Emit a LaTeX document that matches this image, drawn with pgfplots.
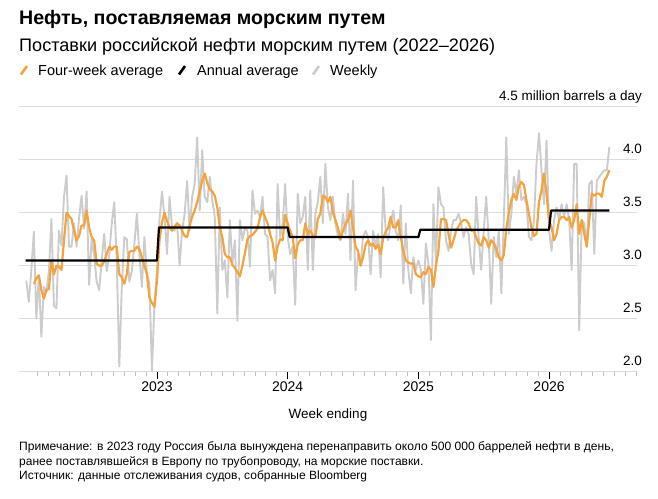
\documentclass[border=0pt]{standalone}
\usepackage{fontspec}
\setmainfont{Liberation Sans}
\usepackage{pgfplots}
\usepackage{pgfplotstable}
\pgfplotsset{compat=1.18}
\definecolor{orng}{HTML}{F5A33B}
\definecolor{wgray}{HTML}{CCCCCC}
\definecolor{grd}{HTML}{DCDCDC}
\pgfplotstableread{
w v
0 2.86
1 2.66
2 2.95
3 3.32
4 2.50
5 2.90
6 2.33
7 2.80
8 2.75
9 2.95
10 3.44
11 2.62
12 2.60
13 3.33
14 3.19
15 3.65
16 3.85
17 3.18
18 3.18
19 3.40
20 3.18
21 3.45
22 3.66
23 3.35
24 3.70
25 2.82
26 3.25
27 3.10
28 2.85
29 2.77
30 3.05
31 3.30
32 2.95
33 3.10
34 3.40
35 3.60
36 3.05
37 2.05
38 2.80
39 3.27
40 3.25
41 2.85
42 2.95
43 3.20
44 3.49
45 3.10
46 2.80
47 3.27
48 2.92
49 2.83
50 2.01
51 2.64
52 2.95
53 3.43
54 3.70
55 3.46
56 3.11
57 3.65
58 3.36
59 3.33
60 3.40
61 3.00
62 3.33
63 3.49
64 3.80
65 3.33
66 3.65
67 3.77
68 4.21
69 3.52
70 4.09
71 3.65
72 3.60
73 3.84
74 3.62
75 3.46
76 2.55
77 3.55
78 2.96
79 3.05
80 2.70
81 3.43
82 3.02
83 3.24
84 2.48
85 3.43
86 3.24
87 3.36
88 3.33
89 2.99
90 3.71
91 3.49
92 3.52
93 3.46
94 3.65
95 3.30
96 3.27
97 2.86
98 2.96
99 2.74
100 3.77
101 3.27
102 3.40
103 3.77
104 3.27
105 3.11
106 3.18
107 2.63
108 3.68
109 3.40
110 3.46
111 3.65
112 2.96
113 3.71
114 2.96
115 3.49
116 3.60
117 3.84
118 3.40
119 3.96
120 3.55
121 3.43
122 3.65
123 3.40
124 3.28
125 3.24
126 3.49
127 3.30
128 3.68
129 3.05
130 3.80
131 2.77
132 3.11
133 3.02
134 3.27
135 3.33
136 3.27
137 2.92
138 3.33
139 3.18
140 3.30
141 2.89
142 3.74
143 3.33
144 3.24
145 3.40
146 3.52
147 3.33
148 3.24
149 3.57
150 2.83
151 3.40
152 2.96
153 2.74
154 3.08
155 2.96
156 3.05
157 2.96
158 2.64
159 3.21
160 3.02
161 2.30
162 3.58
163 3.02
164 3.74
165 3.58
166 3.55
167 3.24
168 3.14
169 3.33
170 3.43
171 3.43
172 3.49
173 3.40
174 3.27
175 3.36
176 3.30
177 3.02
178 2.92
179 3.65
180 3.27
181 2.96
182 3.33
183 3.65
184 3.24
185 2.64
186 3.27
187 3.08
188 3.33
189 2.74
190 3.43
191 4.21
192 3.30
193 3.49
194 3.84
195 3.68
196 3.90
197 3.62
198 3.65
199 3.58
200 3.27
201 3.24
202 3.43
203 3.96
204 4.25
205 3.90
206 3.58
207 4.18
208 3.33
209 3.14
210 3.43
211 3.55
212 3.43
213 3.58
214 3.46
215 3.58
216 3.43
217 2.96
218 3.96
219 3.96
220 2.39
221 3.43
222 3.40
223 3.18
224 3.77
225 3.80
226 3.11
227 3.80
228 3.84
229 3.87
230 3.90
231 3.90
232 4.12
}\weekly
\pgfplotstableread{
w v
3 2.83
4 2.88
5 2.91
6 2.77
7 2.69
8 2.77
9 2.78
10 3.05
11 2.92
12 3.00
13 2.99
14 2.96
15 3.24
16 3.50
17 3.47
18 3.44
19 3.33
20 3.24
21 3.28
22 3.38
23 3.38
24 3.52
25 3.36
26 3.27
27 3.24
28 3.02
29 3.00
30 3.00
31 3.04
32 3.11
33 3.18
34 3.15
35 3.18
36 3.18
37 2.92
38 2.89
39 2.83
40 2.92
41 3.13
42 3.14
43 3.14
44 3.18
45 3.16
46 3.08
47 3.00
48 2.92
49 2.70
50 2.65
51 2.61
52 2.86
53 3.24
54 3.41
55 3.50
56 3.42
57 3.36
58 3.33
59 3.37
60 3.40
61 3.38
62 3.33
63 3.28
64 3.27
65 3.38
66 3.46
67 3.52
68 3.60
69 3.70
70 3.80
71 3.87
72 3.78
73 3.72
74 3.70
75 3.66
76 3.55
77 3.36
78 3.27
79 3.11
80 3.08
81 3.08
82 3.01
83 2.98
84 2.94
85 2.90
86 3.00
87 3.12
88 3.25
89 3.28
90 3.29
91 3.32
92 3.35
93 3.46
94 3.52
95 3.46
96 3.40
97 3.30
98 3.22
99 3.05
100 3.18
101 3.25
102 3.24
103 3.48
104 3.40
105 3.33
106 3.27
107 3.07
108 3.20
109 3.24
110 3.24
111 3.40
112 3.30
113 3.33
114 3.28
115 3.27
116 3.44
117 3.49
118 3.66
119 3.65
120 3.60
121 3.65
122 3.50
123 3.43
124 3.36
125 3.25
126 3.33
127 3.39
128 3.43
129 3.52
130 3.36
131 3.18
132 3.14
133 3.00
134 3.08
135 3.20
136 3.24
137 3.19
138 3.21
139 3.16
140 3.20
141 3.11
142 3.26
143 3.32
144 3.36
145 3.46
146 3.36
147 3.36
148 3.43
149 3.27
150 3.14
151 3.05
152 3.03
153 3.02
154 3.02
155 2.92
156 2.90
157 2.89
158 2.94
159 2.92
160 2.99
161 2.96
162 2.80
163 3.00
164 3.14
165 3.44
166 3.44
167 3.43
168 3.30
169 3.17
170 3.24
171 3.33
172 3.37
173 3.41
174 3.43
175 3.43
176 3.40
177 3.33
178 3.33
179 3.27
180 3.21
181 3.19
182 3.27
183 3.24
184 3.17
185 3.24
186 3.21
187 3.16
188 3.08
189 3.05
190 3.10
191 3.35
192 3.50
193 3.62
194 3.68
195 3.62
196 3.75
197 3.79
198 3.76
199 3.62
200 3.49
201 3.36
202 3.28
203 3.30
204 3.60
205 3.71
206 3.87
207 3.68
208 3.43
209 3.36
210 3.24
211 3.30
212 3.43
213 3.46
214 3.46
215 3.43
216 3.46
217 3.36
218 3.43
219 3.58
220 3.30
221 3.43
222 3.30
223 3.18
224 3.43
225 3.68
226 3.66
227 3.68
228 3.68
229 3.65
230 3.80
231 3.84
232 3.90
}\fourweek
\pgfplotstableread{
w v
-0.3 3.05
52.0 3.05
52.8 3.36
104.0 3.36
104.8 3.27
156.0 3.27
156.8 3.34
208.0 3.34
208.8 3.52
232.0 3.52
}\annual
\begin{document}
\begin{tikzpicture}
\useasboundingbox (0pt,0pt) rectangle (658pt,-498pt);
% titles
\node[anchor=base west,inner sep=0pt] at (19pt,-24.3pt) {\fontsize{19.6}{22}\selectfont\bfseries Нефть, поставляемая морским путем};
\node[anchor=base west,inner sep=0pt] at (19pt,-51.7pt) {\fontsize{18.1}{20}\selectfont Поставки российской нефти морским путем (2022–2026)};
% legend
\draw[orng,line width=2.6pt] (21pt,-74.5pt) -- (27pt,-66pt);
\node[anchor=base west,inner sep=0pt] at (38pt,-75pt) {\fontsize{14.5}{17}\selectfont Four-week average};
\draw[black,line width=2.6pt] (179pt,-74.5pt) -- (185pt,-66pt);
\node[anchor=base west,inner sep=0pt] at (197pt,-75pt) {\fontsize{14.5}{17}\selectfont Annual average};
\draw[wgray,line width=2.6pt] (313pt,-74.5pt) -- (319pt,-66pt);
\node[anchor=base west,inner sep=0pt] at (330pt,-75pt) {\fontsize{14.5}{17}\selectfont Weekly};
\begin{axis}[
  at={(19pt,-371.7pt)}, anchor=south west,
  scale only axis, width=618pt, height=265pt,
  xmin=-2.9, xmax=243.0, ymin=2, ymax=4.5,
  clip=false,
  axis line style={draw=none},
  ytick={2,2.5,3,3.5,4,4.5},
  yticklabels={2.0,2.5,3.0,3.5,4.0,4.5 million barrels a day},
  yticklabel pos=right,
  ymajorgrids, major grid style={grd,line width=1.3pt},
  yticklabel style={anchor=base east,inner sep=0pt,xshift=-2pt,yshift=6.5pt,font=\fontsize{13.5}{16}\selectfont},
  xtick={52,104,156,208},
  xticklabels={2023,2024,2025,2026},
  minor xtick={4.3333,8.6667,...,242},
  xtick pos=bottom, tick align=outside,
  major tick length=7pt, minor tick length=4pt,
  major x tick style={black,line width=0.9pt},
  minor x tick style={gray!50,line width=0.8pt},
  major y tick style={draw=none},
  xticklabel style={anchor=base,inner sep=0pt,yshift=-13pt,font=\fontsize{14}{16}\selectfont},
  /pgf/number format/assume math mode=true,
]
\addplot[wgray,line width=1.9pt,line join=round] table[x=w,y=v]{\weekly};
\addplot[orng,line width=2.2pt,line join=round] table[x=w,y=v]{\fourweek};
\addplot[black,line width=2.2pt,line join=round] table[x=w,y=v]{\annual};
\end{axis}
\node[anchor=base,inner sep=0pt] at (328pt,-418.3pt) {\fontsize{13.5}{16}\selectfont Week ending};
\node[anchor=base west,inner sep=0pt] at (19pt,-450.5pt) {\fontsize{12.1}{14}\selectfont Примечание: в 2023 году Россия была вынуждена перенаправить около 500 000 баррелей нефти в день,};
\node[anchor=base west,inner sep=0pt] at (19pt,-465.5pt) {\fontsize{12}{14}\selectfont ранее поставлявшейся в Европу по трубопроводу, на морские поставки.};
\node[anchor=base west,inner sep=0pt] at (19pt,-479.5pt) {\fontsize{12}{14}\selectfont Источник: данные отслеживания судов, собранные Bloomberg};
\end{tikzpicture}
\end{document}
